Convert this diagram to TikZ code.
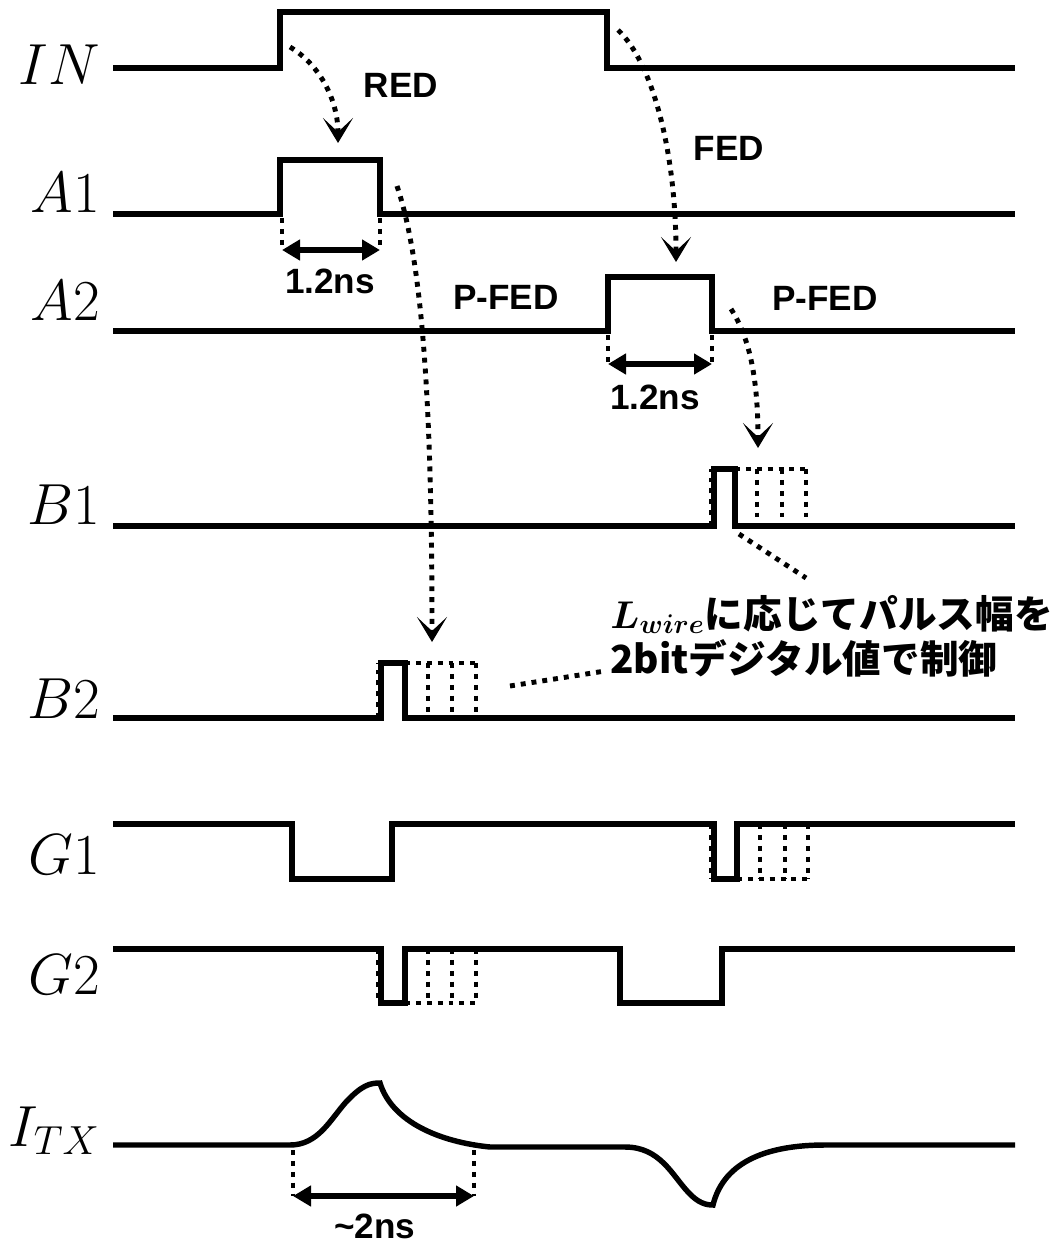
\RequirePackage{fix-cm}
\documentclass[tikz,border=0pt]{standalone}
\usepackage{bm}
\usepackage{fontspec}
\setsansfont{Liberation Sans}
\newfontfamily\cjk{Noto Sans CJK JP}
\usepackage{tikz}
\usetikzlibrary{arrows.meta}

\tikzset{
  wave/.style={line width=3.1pt},
  dots/.style={line width=2.8pt, dash pattern=on 2.8pt off 3.4pt},
  flow/.style={dots, -{Stealth[length=5mm,width=6mm,inset=2.8mm]}},
  span/.style={line width=3.1pt, {Triangle[length=3.6mm,width=4mm]}-{Triangle[length=3.6mm,width=4mm]}},
  signame/.style={anchor=base east, inner sep=0pt, font=\fontsize{33}{40}\selectfont},
  tag/.style={inner sep=0pt, font=\sffamily\bfseries\fontsize{20}{24}\selectfont},
  note/.style={anchor=base west, inner sep=0pt, font=\cjk\bfseries\fontsize{22}{26}\selectfont},
}

\begin{document}
\begin{tikzpicture}[x=0.02cm, y=-0.02cm]
    \useasboundingbox (0,0) rectangle (1054,1244);

    % Signal names
    \node[signame] (n-in) at (100,84) {$IN$};
    \node[signame] (n-a1) at (100,212) {$A1$};
    \node[signame] (n-a2) at (100,320) {$A2$};
    \node[signame] (n-b1) at (100,524) {$B1$};
    \node[signame] (n-b2) at (100,718) {$B2$};
    \node[signame] (n-g1) at (100,874) {$G1$};
    \node[signame] (n-g2) at (100,994) {$G2$};
    \node[signame] (n-itx) at (100,1146) {$I_{TX}$};

    % IN, A1, A2
    \draw[wave] (113,68) -- (280,68) -- (280,12) -- (607,12) -- (607,68) -- (1015,68);
    \draw[wave] (113,214) -- (280,214) -- (280,160) -- (380,160) -- (380,214) -- (1015,214);
    \draw[wave] (113,331) -- (608,331) -- (608,277) -- (712,277) -- (712,331) -- (1015,331);

    % B1
    \draw[wave] (113,526) -- (714,526) -- (714,469) -- (735,469) -- (735,526) -- (1015,526);
    \draw[dots] (711,526) -- (711,469);
    \draw[dots] (735,469) -- (806,469);
    \foreach \x in {757,782,806}
        \draw[dots] (\x,469) -- (\x,526);

    % B2
    \draw[wave] (113,718) -- (381,718) -- (381,663) -- (405,663) -- (405,718) -- (1015,718);
    \draw[dots] (378,718) -- (378,663);
    \draw[dots] (405,663) -- (476,663);
    \foreach \x in {428,452,476}
        \draw[dots] (\x,663) -- (\x,718);

    % G1
    \draw[wave] (113,824) -- (292,824) -- (292,879) -- (392,879) -- (392,824) -- (714,824)
        -- (714,879) -- (737,879) -- (737,824) -- (1015,824);
    \draw[dots] (711,824) -- (711,879);
    \draw[dots] (737,879) -- (808,879);
    \foreach \x in {760,785,808}
        \draw[dots] (\x,824) -- (\x,879);

    % G2
    \draw[wave] (113,949) -- (381,949) -- (381,1003) -- (405,1003) -- (405,949) -- (620,949)
        -- (620,1003) -- (722,1003) -- (722,949) -- (1015,949);
    \draw[dots] (378,949) -- (378,1003);
    \draw[dots] (405,1003) -- (476,1003);
    \foreach \x in {428,452,476}
        \draw[dots] (\x,949) -- (\x,1003);

    % I_TX
    \draw[wave] (113,1145) -- (290,1145)
        .. controls (318,1145) and (330,1120) .. (346,1102)
        .. controls (362,1085) and (370,1083) .. (380,1083)
        .. controls (392,1122) and (440,1142) .. (490,1147)
        -- (625,1147)
        .. controls (660,1147) and (672,1175) .. (688,1192)
        .. controls (698,1203) and (706,1205) .. (713,1205)
        .. controls (724,1160) and (770,1145) .. (825,1145)
        -- (1015,1145);

    % Pulse widths
    \coordinate (a1-l) at (282,250);
    \coordinate (a1-r) at (380,250);
    \draw[dots] (282,218) -- (a1-l);
    \draw[dots] (380,218) -- (a1-r);
    \draw[span] (a1-l) -- (a1-r);
    \node[tag] (w-a1) at (330,281) {1.2ns};

    \coordinate (a2-l) at (608,364);
    \coordinate (a2-r) at (712,364);
    \draw[dots] (608,335) -- (a2-l);
    \draw[dots] (712,335) -- (a2-r);
    \draw[span] (a2-l) -- (a2-r);
    \node[tag] (w-a2) at (655,397) {1.2ns};

    \coordinate (itx-l) at (293,1196);
    \coordinate (itx-r) at (474,1196);
    \draw[dots] (293,1150) -- (itx-l);
    \draw[dots] (474,1150) -- (itx-r);
    \draw[span] (itx-l) -- (itx-r);
    \node[tag] (w-itx) at (375,1226) {\textasciitilde2ns};

    % Edge detection arrows
    \coordinate (red-s) at (290,47);
    \coordinate (red-e) at (338,143);
    \draw[flow] (red-s) .. controls (320,65) and (338,100) .. (red-e);
    \node[tag] (l-red) at (401,85) {RED};

    \coordinate (fed-s) at (618,30);
    \coordinate (fed-e) at (676,262);
    \draw[flow] (fed-s) .. controls (652,62) and (676,150) .. (fed-e);
    \node[tag] (l-fed) at (729,148) {FED};

    \coordinate (pfa-s) at (397,186);
    \coordinate (pfa-e) at (432,642);
    \draw[flow] (pfa-s) .. controls (422,260) and (432,400) .. (pfa-e);
    \node[tag] (l-pfa) at (506,297) {P-FED};

    \coordinate (pfb-s) at (731,309);
    \coordinate (pfb-e) at (758,448);
    \draw[flow] (pfb-s) .. controls (750,338) and (758,380) .. (pfb-e);
    \node[tag] (l-pfb) at (825,298) {P-FED};

    % Width control note
    \node[note] (note1) at (610,628) {$\bm{L_{wire}}$に応じてパルス幅を};
    \node[note] (note2) at (610,673) {2bitデジタル値で制御};
    \coordinate (b1-t) at (739,534);
    \coordinate (b1-n) at (806,578);
    \draw[dots] (b1-t) -- (b1-n);
    \coordinate (b2-t) at (510,686);
    \coordinate (b2-n) at (605,671);
    \draw[dots] (b2-t) -- (b2-n);
\end{tikzpicture}
\end{document}
